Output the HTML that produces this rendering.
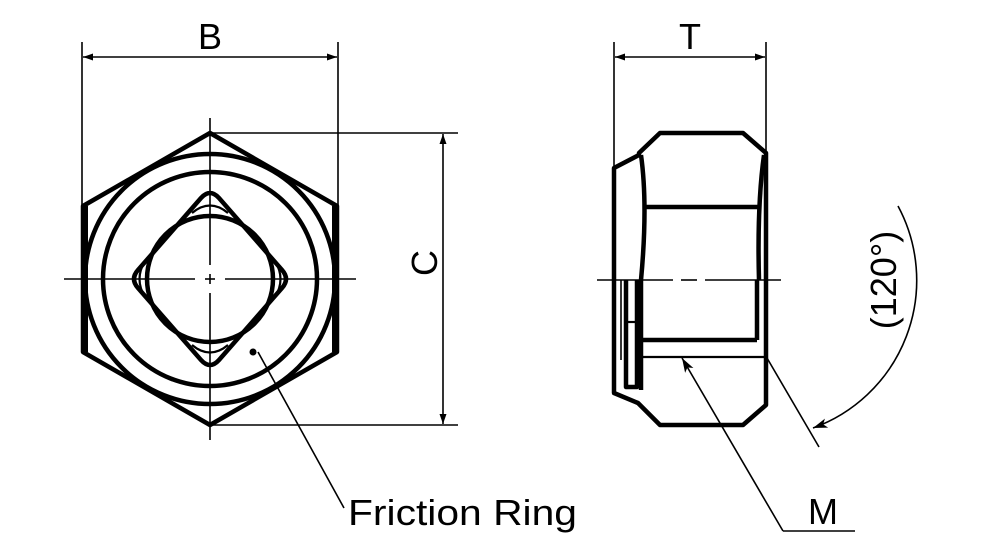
<!DOCTYPE html>
<html><head><style>body{margin:0;background:#fff}svg{display:block}</style></head><body>
<svg width="998" height="545" viewBox="0 0 998 545" xmlns="http://www.w3.org/2000/svg">
<defs>
<marker id="a" viewBox="0 0 10 10" refX="10" refY="5" markerWidth="10" markerHeight="10" markerUnits="userSpaceOnUse" orient="auto-start-reverse"><path d="M0,1.5 L10,5 L0,8.5 z" fill="#000"/></marker>
<marker id="b" viewBox="0 0 12 10" refX="12" refY="5" markerWidth="16" markerHeight="12" markerUnits="userSpaceOnUse" orient="auto"><path d="M0,1 L12,5 L0,9 L3,5 z" fill="#000"/></marker>
</defs>
<g fill="none" stroke="#000">
<g stroke-width="1.6">
<line x1="82" y1="42" x2="82" y2="205"/><line x1="338" y1="42" x2="338" y2="205"/>
<line x1="83" y1="57" x2="337" y2="57" marker-start="url(#a)" marker-end="url(#a)"/>
<line x1="210" y1="133" x2="458" y2="133"/><line x1="210" y1="425" x2="458" y2="425"/>
<line x1="443" y1="134" x2="443" y2="424" marker-start="url(#a)" marker-end="url(#a)"/>
<line x1="64" y1="279" x2="195" y2="279"/><line x1="225" y1="279" x2="356" y2="279"/>
<line x1="205" y1="279" x2="215" y2="279"/>
<line x1="210" y1="118" x2="210" y2="265"/><line x1="210" y1="274" x2="210" y2="284"/><line x1="210" y1="293" x2="210" y2="440"/>
<line x1="258" y1="352" x2="344" y2="508"/>
</g>
<circle cx="253" cy="352" r="3.5" fill="#000" stroke="none"/>
<g stroke-width="4.5" stroke-linejoin="round">
<polygon points="210,133 337,206 337,352 210,425 83,352 83,206"/>
<circle cx="210" cy="279" r="125"/>
<circle cx="210" cy="279" r="107"/>
<circle cx="210" cy="279" r="63"/>
<path d="M201,198 Q210,188 219,198 L282,270 Q290,279 282,288 L219,360 Q210,370 201,360 L138,288 Q130,279 138,270 Z"/>
</g>
<g stroke-width="2.2">
<path d="M192,213 Q210,198 228,213"/><path d="M192,345 Q210,360 228,345"/>
<path d="M145,261 Q134,279 145,297"/><path d="M275,261 Q286,279 275,297"/>
</g>
<line x1="85" y1="206" x2="85" y2="352" stroke-width="6"/><line x1="335" y1="206" x2="335" y2="352" stroke-width="6"/>
<g stroke-width="1.6">
<line x1="614" y1="42" x2="614" y2="168"/><line x1="766" y1="42" x2="766" y2="153"/>
<line x1="615" y1="57" x2="765" y2="57" marker-start="url(#a)" marker-end="url(#a)"/>
<line x1="597" y1="280" x2="673" y2="280"/><line x1="681" y1="280" x2="697" y2="280"/><line x1="705" y1="280" x2="781" y2="280"/>
<line x1="767" y1="358" x2="819" y2="447"/>
<path d="M898,206 A157,157 0 0 1 813,428" marker-end="url(#b)"/>
<line x1="783" y1="531" x2="682" y2="358" marker-end="url(#b)"/>
<line x1="783" y1="531" x2="855" y2="531"/>
<line x1="621" y1="280" x2="621" y2="360"/>
</g>
<g stroke-width="4.5" stroke-linejoin="round">
<path d="M639,153 L660,133 L743,133 L766,153 L766,405 L743,425 L660,425 L638,403 L614,393 L614,168 L639,155 Z"/>
<line x1="645" y1="207" x2="758" y2="207"/>
<path d="M641,155 Q648,205 641,280 L641,390"/>
<path d="M764,155 Q757,205 759,280"/>
<line x1="641" y1="340" x2="757" y2="340"/>
<line x1="757" y1="280" x2="757" y2="340"/>
<line x1="641" y1="357" x2="766" y2="357" stroke-width="2.2"/>
<path d="M626,280 L626,387 L637,387 L637,280"/>
<line x1="626" y1="322" x2="637" y2="322" stroke-width="2.2"/>
</g>
</g>
<g font-family="'Liberation Sans',sans-serif" font-size="36" fill="#000">
<text x="210" y="49" text-anchor="middle">B</text>
<text x="690" y="49" text-anchor="middle">T</text>
<text x="0" y="0" text-anchor="middle" transform="translate(437,263) rotate(-90)">C</text>
<text x="0" y="0" text-anchor="middle" transform="translate(896,280) rotate(-90)">(120°)</text>
<text x="348" y="525" textLength="229" lengthAdjust="spacingAndGlyphs">Friction Ring</text>
<text x="808" y="524">M</text>
</g>
</svg>
</body></html>
